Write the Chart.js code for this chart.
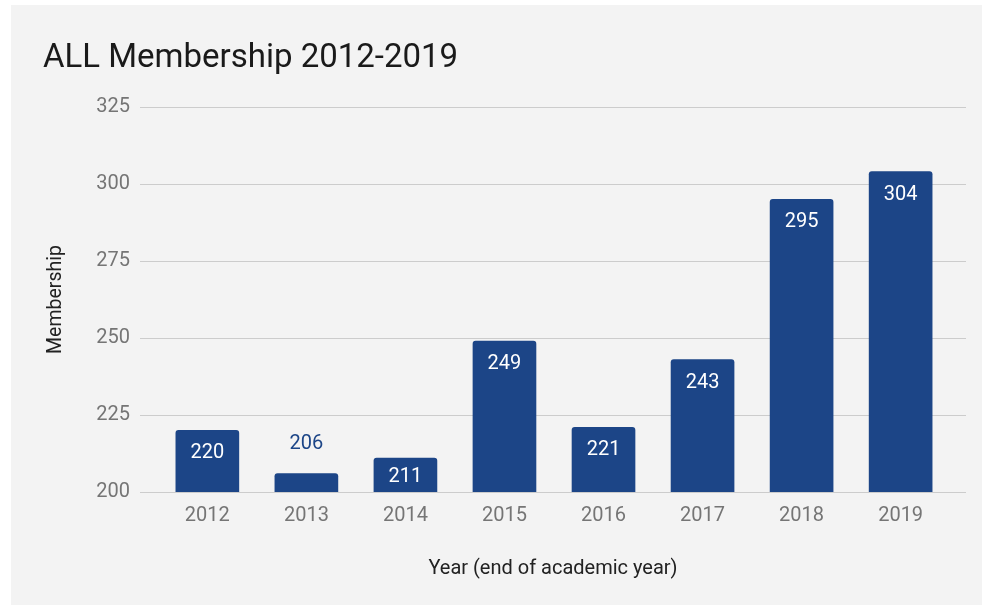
<!DOCTYPE html>
<html>
<head>
<meta charset="utf-8">
<script src="https://cdn.jsdelivr.net/npm/chart.js@4"></script>
<style>
  html, body { margin: 0; padding: 0; background: #ffffff; width: 982px; height: 605px; overflow: hidden; }
  #panel { position: absolute; left: 11px; top: 5px; width: 971px; height: 600px; background: #f3f3f3; }
  #c { display: block; }
</style>
</head>
<body>
<div id="panel"><canvas id="c" width="971" height="600"></canvas></div>
<script>
const years = [2012, 2013, 2014, 2015, 2016, 2017, 2018, 2019];
const membership = [220, 206, 211, 249, 221, 243, 295, 304];
const yTicks = [200, 225, 250, 275, 300, 325];

const BAR = '#1c4587';

const labelPlugin = {
  id: 'barLabels',
  afterDatasetsDraw(chart) {
    const ctx = chart.ctx;
    const meta = chart.getDatasetMeta(0);
    const bottom = chart.chartArea.bottom;
    ctx.save();
    ctx.font = '20px Roboto';
    ctx.textAlign = 'center';
    ctx.textBaseline = 'middle';
    meta.data.forEach((bar, i) => {
      const v = membership[i];
      const h = bottom - bar.y;
      if (h > 25) {
        ctx.fillStyle = '#ffffff';
        ctx.fillText(String(v), bar.x, Math.min(bar.y + 23, (bar.y + bottom) / 2 + 2));
      } else {
        ctx.fillStyle = BAR;
        ctx.fillText(String(v), bar.x, bar.y - 30);
      }
    });
    ctx.restore();
  }
};

new Chart(document.getElementById('c'), {
  type: 'bar',
  data: {
    datasets: [{
      data: years.map((y, i) => ({ x: y, y: membership[i] })),
      backgroundColor: BAR,
      borderRadius: 3,
      borderSkipped: 'bottom',
      barThickness: 63
    }]
  },
  options: {
    responsive: false,
    animation: false,
    layout: { padding: { left: 32, right: 16, top: 0, bottom: 0 } },
    plugins: {
      legend: { display: false },
      tooltip: { enabled: false },
      title: {
        display: true,
        text: 'ALL Membership 2012-2019',
        align: 'start',
        color: '#1a1a1a',
        font: { family: 'Roboto', size: 33, weight: 'normal' },
        padding: { top: 33.7, bottom: 28.7 }
      }
    },
    scales: {
      x: {
        type: 'linear',
        offset: false,
        min: 2011.32,
        max: 2019.66,
        grid: { display: false },
        border: { display: false },
        afterBuildTicks(scale) { scale.ticks = years.map(v => ({ value: v })); },
        afterFit(scale) { scale.height = 113; },
        ticks: {
          color: '#757575',
          font: { family: 'Roboto', size: 20 },
          padding: 4,
          maxRotation: 0,
          autoSkip: false,
          callback: v => String(v)
        },
        title: {
          display: true,
          text: 'Year (end of academic year)',
          color: '#222222',
          font: { family: 'Roboto', size: 20 },
          padding: { top: 0, bottom: 24 }
        }
      },
      y: {
        min: 200,
        max: 325,
        afterBuildTicks(scale) { scale.ticks = yTicks.map(v => ({ value: v })); },
        afterFit(scale) { scale.width = 97; },
        grid: { color: '#cccccc', drawTicks: false },
        border: { display: false },
        ticks: {
          color: '#757575',
          font: { family: 'Roboto', size: 20 },
          padding: 10
        },
        title: {
          display: true,
          text: 'Membership',
          color: '#222222',
          font: { family: 'Roboto', size: 19.5 },
          padding: { top: 1, bottom: 0 }
        }
      }
    }
  },
  plugins: [labelPlugin]
});
</script>
</body>
</html>
